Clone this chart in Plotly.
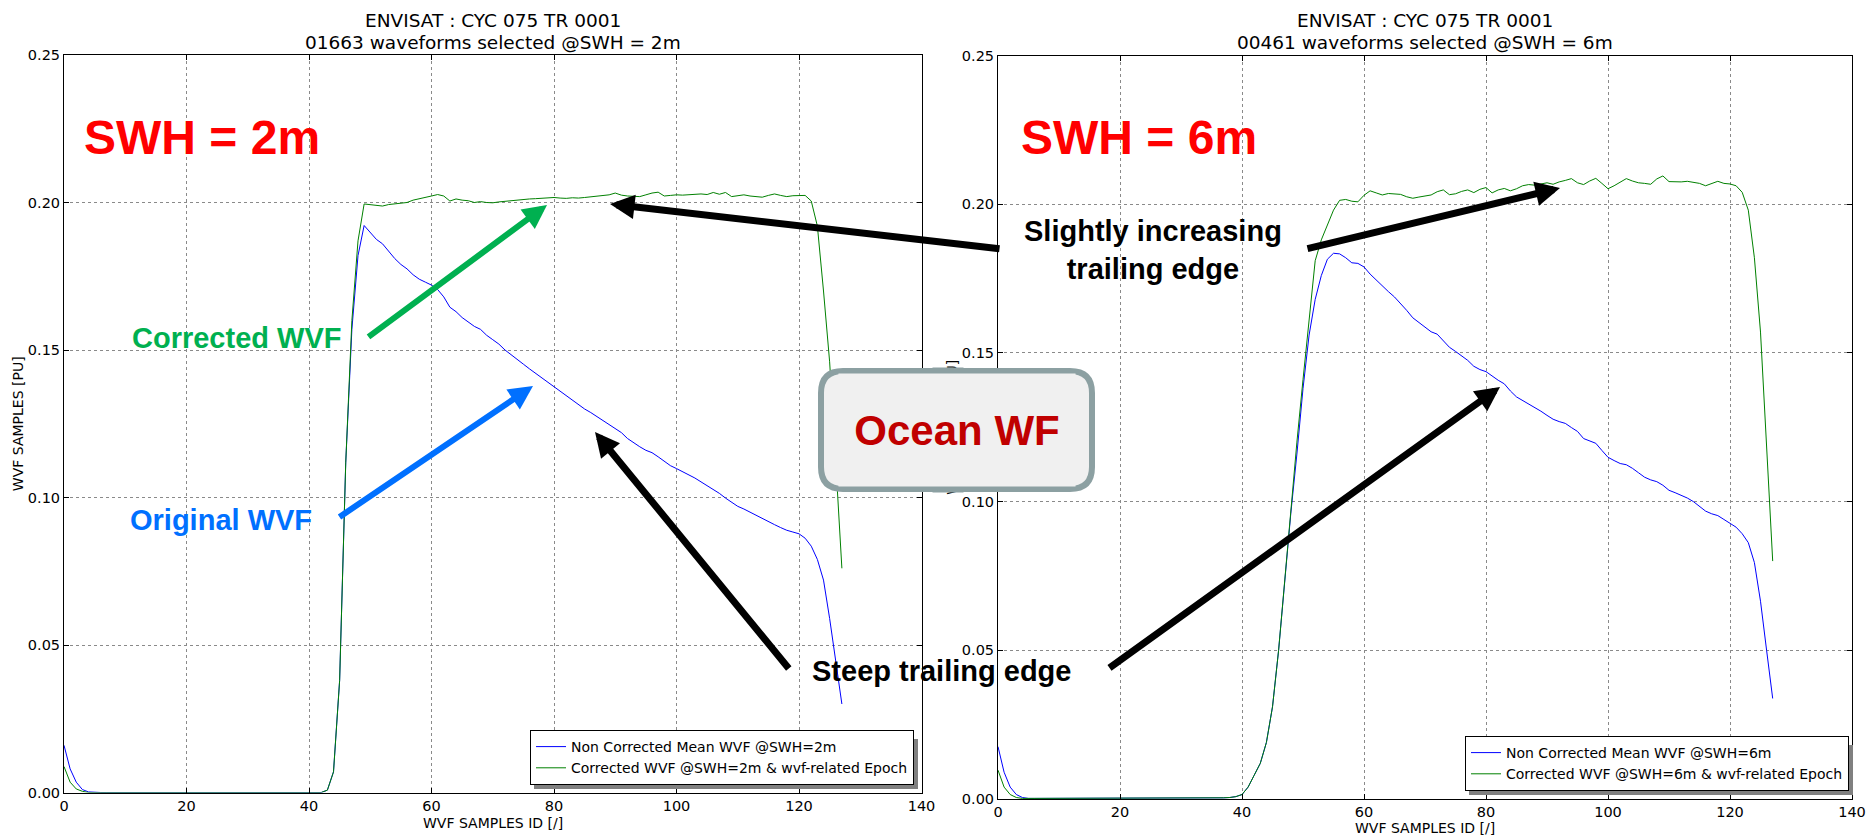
import plotly.graph_objects as go

W, H = 1874, 836
OFF = 8  # page body margin offset of the figure inside the window

samples = list(range(128))

# SWH = 2m
raw_2m = [
    0.016, 0.008, 0.0035, 0.001, 0.0002, 0.0, 0.0, 0.0, 0.0, 0.0,
    0.0, 0.0, 0.0, 0.0, 0.0, 0.0, 0.0, 0.0, 0.0, 0.0,
    0.0, 0.0, 0.0, 0.0, 0.0, 0.0, 0.0, 0.0, 0.0, 0.0,
    0.0, 0.0, 0.0, 0.0, 0.0, 0.0, 0.0, 0.0, 0.0, 0.0,
    0.0, 0.0, 0.0, 0.0008, 0.007, 0.038, 0.112, 0.157, 0.182, 0.1922,
    0.190, 0.1875, 0.186, 0.1835, 0.181, 0.179, 0.1775, 0.1755, 0.174, 0.173,
    0.172, 0.1705, 0.168, 0.1645, 0.163, 0.161, 0.1594, 0.158, 0.157, 0.155,
    0.1535, 0.152, 0.150, 0.1483, 0.1468, 0.1452, 0.1436, 0.1421, 0.1406, 0.139,
    0.1376, 0.136, 0.1343, 0.133, 0.1315, 0.130, 0.1288, 0.1275, 0.126, 0.1248,
    0.1235, 0.122, 0.120, 0.1185, 0.1172, 0.116, 0.1152, 0.1138, 0.1122, 0.1108,
    0.1098, 0.1088, 0.1077, 0.1066, 0.1053, 0.104, 0.1027, 0.1014, 0.0998, 0.0983,
    0.097, 0.0961, 0.095, 0.094, 0.0929, 0.0918, 0.0908, 0.0898, 0.0889, 0.0883,
    0.0877, 0.0862, 0.0835, 0.079, 0.072, 0.059, 0.045, 0.030,
]
cor_2m = [
    0.0088, 0.0035, 0.0012, 0.0004, 0.0, 0.0, 0.0, 0.0, 0.0, 0.0,
    0.0, 0.0, 0.0, 0.0, 0.0, 0.0, 0.0, 0.0, 0.0, 0.0,
    0.0, 0.0, 0.0, 0.0, 0.0, 0.0, 0.0, 0.0, 0.0, 0.0,
    0.0, 0.0, 0.0, 0.0, 0.0, 0.0, 0.0, 0.0, 0.0, 0.0,
    0.0, 0.0, 0.0, 0.0008, 0.007, 0.038, 0.112, 0.160, 0.187, 0.1995,
    0.1993, 0.1992, 0.1988, 0.1993, 0.1995, 0.1997, 0.2, 0.2008, 0.2012, 0.2018,
    0.2022, 0.2027, 0.2022, 0.2005, 0.2012, 0.2008, 0.2006, 0.2, 0.2003, 0.2,
    0.1999, 0.2002, 0.2004, 0.2008, 0.2008, 0.201, 0.2012, 0.2013, 0.2014, 0.2015,
    0.2017, 0.2015, 0.2014, 0.2016, 0.2015, 0.2017, 0.2019, 0.2022, 0.2023, 0.2026,
    0.2032, 0.2025, 0.2022, 0.202, 0.202, 0.2026, 0.2032, 0.2035, 0.2022, 0.2024,
    0.2026, 0.2025, 0.2026, 0.2028, 0.2029, 0.2027, 0.2034, 0.2028, 0.2034, 0.202,
    0.2024, 0.2026, 0.2022, 0.2019, 0.2018, 0.2024, 0.2029, 0.2024, 0.202, 0.2023,
    0.2024, 0.2024, 0.2005, 0.192, 0.170, 0.146, 0.112, 0.076,
]

# SWH = 6m
raw_6m = [
    0.0176, 0.009, 0.004, 0.0015, 0.0005, 0.0002, 0.0002, 0.0002, 0.0002, 0.0002,
    0.0002, 0.0002, 0.0002, 0.0002, 0.0002, 0.0002, 0.0002, 0.0002, 0.0002, 0.0002,
    0.0002, 0.0002, 0.0002, 0.0002, 0.0002, 0.0002, 0.0002, 0.0002, 0.0002, 0.0002,
    0.0002, 0.0002, 0.0002, 0.0002, 0.0002, 0.0003, 0.0003, 0.0004, 0.0005, 0.0008,
    0.0015, 0.004, 0.008, 0.012, 0.019, 0.031, 0.05, 0.074, 0.096, 0.116,
    0.138, 0.156, 0.168, 0.176, 0.1815, 0.1835, 0.1833, 0.182, 0.1803, 0.1801,
    0.1789, 0.1765, 0.1745, 0.1723, 0.1706, 0.1688, 0.1667, 0.1643, 0.1618, 0.1603,
    0.1585, 0.1571, 0.1563, 0.1541, 0.1519, 0.1505, 0.149, 0.1475, 0.1455, 0.1444,
    0.1437, 0.1421, 0.1408, 0.1396, 0.1372, 0.1352, 0.134, 0.1329, 0.1317, 0.1304,
    0.129, 0.1277, 0.1269, 0.1263, 0.1249, 0.1236, 0.1212, 0.1203, 0.1196, 0.1172,
    0.1149, 0.1138, 0.1128, 0.1124, 0.1112, 0.1097, 0.1082, 0.1073, 0.1067, 0.1055,
    0.1038, 0.103, 0.1022, 0.1012, 0.1, 0.0983, 0.0968, 0.0959, 0.0953, 0.094,
    0.0926, 0.0914, 0.0892, 0.0862, 0.0795, 0.0665, 0.05, 0.0338,
]
cor_6m = [
    0.0097, 0.004, 0.0015, 0.0005, 0.0002, 0.0002, 0.0002, 0.0002, 0.0002, 0.0002,
    0.0002, 0.0002, 0.0002, 0.0002, 0.0002, 0.0002, 0.0002, 0.0002, 0.0002, 0.0002,
    0.0002, 0.0002, 0.0002, 0.0002, 0.0002, 0.0002, 0.0002, 0.0002, 0.0002, 0.0002,
    0.0002, 0.0002, 0.0002, 0.0002, 0.0002, 0.0003, 0.0003, 0.0004, 0.0005, 0.0008,
    0.0015, 0.004, 0.008, 0.012, 0.019, 0.031, 0.05, 0.074, 0.097, 0.12,
    0.141, 0.161, 0.181, 0.188, 0.193, 0.198, 0.2013, 0.2016, 0.201, 0.2008,
    0.203, 0.2045, 0.2038, 0.2031, 0.2036, 0.2035, 0.2033, 0.2025, 0.202, 0.2024,
    0.2028, 0.2031, 0.2042, 0.2048, 0.2032, 0.2035, 0.2043, 0.2048, 0.2039, 0.205,
    0.2056, 0.2038, 0.2048, 0.2053, 0.2045, 0.2052, 0.2062, 0.2066, 0.2064, 0.2068,
    0.2072, 0.2067, 0.2075, 0.208, 0.2086, 0.2072, 0.2066, 0.2078, 0.2087, 0.207,
    0.2052, 0.2062, 0.2074, 0.2086, 0.2078, 0.2072, 0.207, 0.2067, 0.2085, 0.2095,
    0.2076, 0.2075, 0.2075, 0.2077, 0.2074, 0.207, 0.2062, 0.207, 0.2077, 0.207,
    0.2068, 0.2062, 0.204, 0.198, 0.182, 0.157, 0.118, 0.080,
]

titles_2m = ["ENVISAT : CYC 075 TR 0001", "01663 waveforms selected @SWH = 2m"]
titles_6m = ["ENVISAT : CYC 075 TR 0001", "00461 waveforms selected @SWH = 6m"]
legend_2m = ["Non Corrected Mean WVF @SWH=2m", "Corrected WVF @SWH=2m & wvf-related Epoch"]
legend_6m = ["Non Corrected Mean WVF @SWH=6m", "Corrected WVF @SWH=6m & wvf-related Epoch"]
x_title = "WVF SAMPLES ID [/]"
y_title = "WVF SAMPLES [PU]"

BLUE = "#0000FF"
GREEN = "#008000"
AXFONT = "DejaVu Sans, Bitstream Vera Sans, sans-serif"
BOLD = "Liberation Sans, Arial, Helvetica, sans-serif"

# plot areas in window pixels (left, right, top, bottom)
P1 = (64, 921.5, 55, 792.5)
P2 = (998, 1852, 55.5, 799)


def px(x):
    return (x - OFF) / W


def py(y):
    return 1 - (y - OFF) / H


fig = go.Figure()
fig.add_trace(go.Scatter(x=samples, y=raw_2m, mode="lines", name=legend_2m[0],
                         line=dict(color=BLUE, width=1), xaxis="x", yaxis="y", legend="legend"))
fig.add_trace(go.Scatter(x=samples, y=cor_2m, mode="lines", name=legend_2m[1],
                         line=dict(color=GREEN, width=1), xaxis="x", yaxis="y", legend="legend"))
fig.add_trace(go.Scatter(x=samples, y=raw_6m, mode="lines", name=legend_6m[0],
                         line=dict(color=BLUE, width=1), xaxis="x2", yaxis="y2", legend="legend2"))
fig.add_trace(go.Scatter(x=samples, y=cor_6m, mode="lines", name=legend_6m[1],
                         line=dict(color=GREEN, width=1), xaxis="x2", yaxis="y2", legend="legend2"))

axis_common = dict(showline=True, linecolor="black", linewidth=1, mirror="ticks",
                   ticks="inside", ticklen=5, tickcolor="black", showgrid=True,
                   gridcolor="#8a8a8a", griddash="dot", gridwidth=1, zeroline=False,
                   automargin=False,
                   tickfont=dict(family=AXFONT, size=14.5, color="black"))

xa = dict(axis_common, range=[0, 140], dtick=20)
ya = dict(axis_common, range=[0, 0.25], dtick=0.05, tickformat=".2f",
          title=dict(text=y_title, font=dict(family=AXFONT, size=14, color="black")))

legend_common = dict(bgcolor="white", bordercolor="black", borderwidth=1,
                     font=dict(family=AXFONT, size=14, color="black"),
                     tracegroupgap=0, itemwidth=30)

# legend boxes (right, bottom) used for shadows
LEG = [(914, 785), (1849, 791)]
LEG_W, LEG_H = 384, 50

shapes = []
for (R, B) in LEG:
    L, T = R - LEG_W, B - LEG_H
    shapes.append(dict(type="rect", xref="paper", yref="paper",
                       x0=px(R), x1=px(R + 4), y0=py(B + 4), y1=py(T + 4),
                       fillcolor="#808080", line=dict(width=0), layer="above"))
    shapes.append(dict(type="rect", xref="paper", yref="paper",
                       x0=px(L + 4), x1=px(R + 4), y0=py(B + 4), y1=py(B),
                       fillcolor="#808080", line=dict(width=0), layer="above"))

# rounded "Ocean WF" box
bx0, by0, bx1, by1, r = 821, 371, 1092, 489, 22
pts = [("M", bx0 + r, by0), ("L", bx1 - r, by0), ("Q", bx1, by0, bx1, by0 + r),
       ("L", bx1, by1 - r), ("Q", bx1, by1, bx1 - r, by1), ("L", bx0 + r, by1),
       ("Q", bx0, by1, bx0, by1 - r), ("L", bx0, by0 + r), ("Q", bx0, by0, bx0 + r, by0)]
path = ""
for p in pts:
    if p[0] == "Q":
        path += "Q%.6f,%.6f %.6f,%.6f " % (px(p[1]), py(p[2]), px(p[3]), py(p[4]))
    else:
        path += "%s%.6f,%.6f " % (p[0], px(p[1]), py(p[2]))
path += "Z"
shapes.append(dict(type="path", xref="paper", yref="paper", path=path,
                   fillcolor="#F0F0F0", line=dict(color="#8CA0A2", width=6), layer="above"))

ann = []


def txt(text, x, y, size, color, family=BOLD, bold=True, **kw):
    t = "<b>%s</b>" % text if bold else text
    d = dict(text=t, x=px(x), y=py(y), xref="paper", yref="paper", showarrow=False,
             xanchor="center", yanchor="middle",
             font=dict(family=family, size=size, color=color))
    d.update(kw)
    ann.append(d)


def arrow(tail, head, color, width, size):
    ann.append(dict(text="", x=px(head[0]), y=py(head[1]), xref="paper", yref="paper",
                    ax=tail[0] - head[0], ay=tail[1] - head[1], axref="pixel", ayref="pixel",
                    showarrow=True, arrowhead=2, arrowsize=size, arrowwidth=width,
                    arrowcolor=color, standoff=0, startstandoff=0, font=dict(size=1)))


# subplot titles
c1 = (P1[0] + P1[1]) / 2
c2 = (P2[0] + P2[1]) / 2
txt(titles_2m[0], c1, 20.5, 18.5, "black", family=AXFONT, bold=False)
txt(titles_2m[1], c1, 42, 18.5, "black", family=AXFONT, bold=False)
txt(titles_6m[0], c2, 20.5, 18.5, "black", family=AXFONT, bold=False)
txt(titles_6m[1], c2, 42, 18.5, "black", family=AXFONT, bold=False)

# x axis titles
txt(x_title, c1, 823, 14, "black", family=AXFONT, bold=False)
txt(x_title, c2, 828, 14, "black", family=AXFONT, bold=False)

# big labels
txt("SWH = 2m", 202, 138, 48, "#FF0000")
txt("SWH = 6m", 1139, 138, 48, "#FF0000")
txt("Corrected WVF", 236, 338, 29, "#00B050")
txt("Original WVF", 221, 520, 29, "#0070FF")
txt("Slightly increasing<br>trailing edge", 1153, 250, 29, "black")
txt("Steep trailing edge", 941, 671, 29, "black")

# arrows
arrow((367, 338), (547, 205), "#00B050", 6, 0.8)
arrow((338, 518), (533, 386), "#0070FF", 6, 0.8)
arrow((1001, 249), (610, 204), "black", 7, 0.7)
arrow((1306, 249), (1560, 188), "black", 7, 0.7)
arrow((790, 670), (595, 432), "black", 7, 0.7)
arrow((1108, 669), (1500, 387), "black", 7, 0.7)

# cover strips over right y title (so the box hides it) + box text
ann.append(dict(text=" ", x=px(948), y=py(371), xref="paper", yref="paper", showarrow=False,
                width=30, height=6, borderpad=0, bgcolor="#8CA0A2", xanchor="center", yanchor="middle"))
ann.append(dict(text=" ", x=px(948), y=py(489), xref="paper", yref="paper", showarrow=False,
                width=30, height=6, borderpad=0, bgcolor="#8CA0A2", xanchor="center", yanchor="middle"))
ann.append(dict(text="<b>Ocean WF</b>", x=px(956.5), y=py(430), xref="paper", yref="paper",
                showarrow=False, width=236, height=112, borderpad=0, bgcolor="#F0F0F0",
                xanchor="center", yanchor="middle", valign="middle",
                font=dict(family=BOLD, size=42, color="#C00000")))

fig.update_layout(
    template="none",
    width=W, height=H, margin=dict(l=0, r=0, t=0, b=0, autoexpand=False),
    paper_bgcolor="white", plot_bgcolor="white",
    xaxis=dict(xa, domain=[px(P1[0]), px(P1[1])], anchor="y"),
    yaxis=dict(ya, domain=[py(P1[3]), py(P1[2])], anchor="x"),
    xaxis2=dict(xa, domain=[px(P2[0]), px(P2[1])], anchor="y2"),
    yaxis2=dict(ya, domain=[py(P2[3]), py(P2[2])], anchor="x2"),
    legend=dict(legend_common, x=px(LEG[0][0]), y=py(LEG[0][1]), xanchor="right", yanchor="bottom"),
    legend2=dict(legend_common, x=px(LEG[1][0]), y=py(LEG[1][1]), xanchor="right", yanchor="bottom"),
    shapes=shapes, annotations=ann, showlegend=True,
)

fig.write_html("out.html")
